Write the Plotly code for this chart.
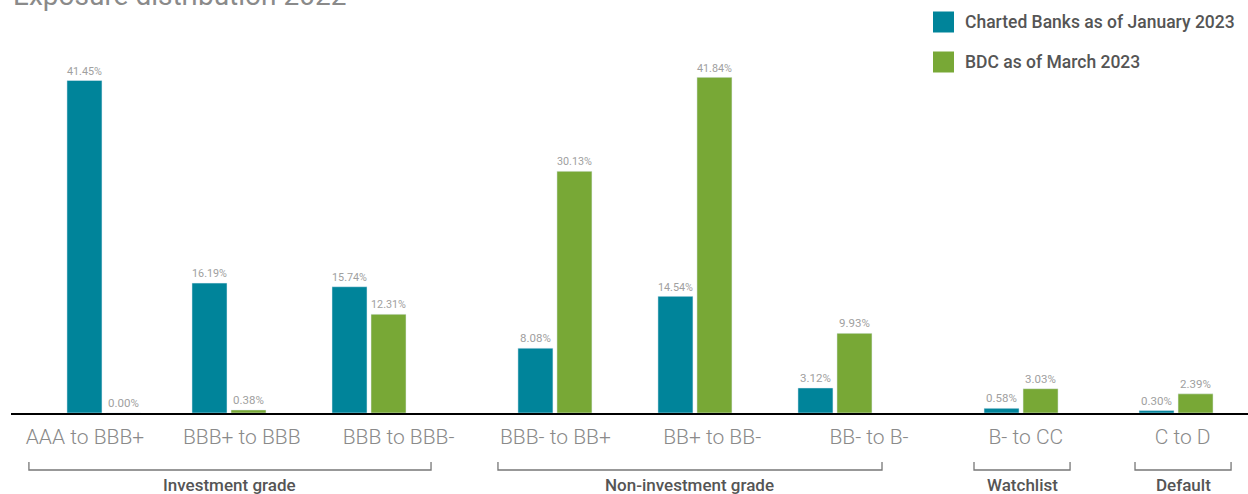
import numpy as np
import plotly.graph_objects as go

# ---------------- data ----------------
categories = ["AAA to BBB+", "BBB+ to BBB", "BBB to BBB-", "BBB- to BB+",
              "BB+ to BB-", "BB- to B-", "B- to CC", "C to D"]
banks_name = "Charted Banks as of January 2023"
bdc_name = "BDC as of March 2023"
banks_values = [41.45, 16.19, 15.74, 8.08, 14.54, 3.12, 0.58, 0.30]
bdc_values = [0.00, 0.38, 12.31, 30.13, 41.84, 9.93, 3.03, 2.39]
group_names = ["Investment grade", "Non-investment grade", "Watchlist", "Default"]
title_text = "Exposure distribution 2022"

# ---------------- layout helpers ----------------
TEAL = "#00849A"
GREEN = "#78A836"
slot_pos = [0.0, 0.893, 1.893, 3.221, 4.221, 5.221, 6.55, 7.657]   # bar-pair centres
label_pos = list(np.arange(len(categories)) * 1.12 - 0.136)         # tick label centres
bracket_ext = [(-0.536, 2.336), (2.814, 5.557), (6.214, 6.9), (7.364, 8.05)]
bar_w = 0.25
X_RANGE = [-0.664, 8.171]
Y_RANGE = [0, 45]
FONT = "Roboto"

fig = go.Figure()
fig.add_trace(go.Bar(
    x=slot_pos, y=banks_values, name=banks_name, marker_color=TEAL,
    width=bar_w, offset=-0.2643,
    texttemplate="%{y:.2f}%", textposition="outside",
    textfont=dict(size=11.5, color="#a0a0a0", family=FONT),
    cliponaxis=False, showlegend=False))
fig.add_trace(go.Bar(
    x=slot_pos, y=bdc_values, name=bdc_name, marker_color=GREEN,
    width=bar_w, offset=0.0143,
    texttemplate="%{y:.2f}%", textposition="outside",
    textfont=dict(size=11.5, color="#a0a0a0", family=FONT),
    cliponaxis=False, showlegend=False))

shapes = []
annotations = []

# group brackets
br_top, br_bot = -0.1357, -0.1579
for name, (x0, x1) in zip(group_names, bracket_ext):
    line = dict(color="#777777", width=1.3)
    shapes.append(dict(type="path", xref="x", yref="paper",
                       path=f"M {x0},{br_top} L {x0},{br_bot} L {x1},{br_bot} L {x1},{br_top}",
                       line=line))
    annotations.append(dict(x=(x0 + x1) / 2, y=-0.2, xref="x", yref="paper",
                            text=name, showarrow=False, yanchor="middle",
                            font=dict(size=17, color="#555555", family=FONT, weight=500)))

# manual legend
for i, (nm, col) in enumerate([(banks_name, TEAL), (bdc_name, GREEN)]):
    cy = 1.0 + (52 - 22 - 40 * i) / 361.0
    shapes.append(dict(type="rect", xref="paper", yref="paper",
                       x0=(933 - 11) / 1237, x1=(954 - 11) / 1237,
                       y0=cy - 10.5 / 361, y1=cy + 10.5 / 361,
                       fillcolor=col, line=dict(width=0)))
    annotations.append(dict(x=(963 - 11) / 1237, y=cy, xref="paper", yref="paper",
                            text=nm, showarrow=False, xanchor="left", yanchor="middle",
                            font=dict(size=17.5, color="#555555", family=FONT, weight=500)))

# title (cut off at top, as in the source image)
annotations.append(dict(x=(11 - 11) / 1237, y=(413 - 14) / 361, xref="paper", yref="paper",
                        text=title_text, showarrow=False, xanchor="left", yanchor="bottom",
                        font=dict(size=28, color="#8a8a8a", family=FONT)))

fig.update_layout(
    width=1248, height=494,
    margin=dict(l=11, r=0, t=52, b=81),
    paper_bgcolor="white", plot_bgcolor="white",
    barmode="overlay",
    shapes=shapes, annotations=annotations,
    xaxis=dict(range=X_RANGE, showgrid=False, zeroline=False,
               showline=True, linecolor="black", linewidth=1.5,
               tickmode="array", tickvals=label_pos, ticktext=categories,
               ticks="", ticklabelstandoff=4,
               tickfont=dict(size=21, color="#8a8a8a", family=FONT, weight=300)),
    yaxis=dict(range=Y_RANGE, visible=False, showgrid=False, zeroline=False),
)

fig.write_html("out.html")
